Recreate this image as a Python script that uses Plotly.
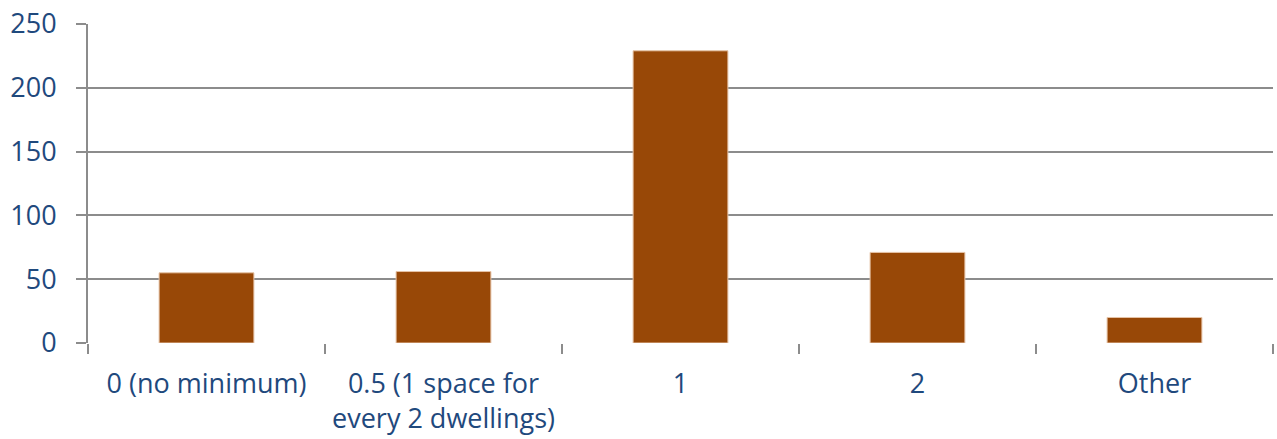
import plotly.graph_objects as go

# Minimum parking requirement (spaces per dwelling) and number of responses
categories = ["0 (no minimum)", "0.5 (1 space for<br>every 2 dwellings)", "1", "2", "Other"]
counts = [55, 56, 229, 71, 20]
y_ticks = [0, 50, 100, 150, 200, 250]

text_color = "#1F497D"
grid_color = "#8C8C8C"
bar_color = "#984807"
font_family = "Open Sans, Noto Sans, sans-serif"

fig = go.Figure(
    go.Bar(
        x=categories,
        y=counts,
        width=0.4,
        marker=dict(color=bar_color, line=dict(color="#E6C3A6", width=1)),
    )
)

fig.update_layout(
    width=1277,
    height=439,
    margin=dict(l=88, r=4, t=24, b=96),
    paper_bgcolor="white",
    plot_bgcolor="white",
    showlegend=False,
    font=dict(family=font_family, size=27, color=text_color),
    bargap=0.6,
)

fig.update_xaxes(
    type="category",
    tickson="boundaries",
    ticks="outside",
    ticklen=10,
    tickwidth=2,
    tickcolor=grid_color,
    showline=False,
    showgrid=False,
    ticklabelstandoff=22,
    tickfont=dict(family=font_family, size=27, color=text_color),
)

fig.update_yaxes(
    range=[0, 250],
    tickvals=y_ticks,
    ticks="outside",
    ticklen=10,
    tickwidth=2,
    tickcolor=grid_color,
    showgrid=True,
    gridcolor=grid_color,
    gridwidth=2,
    showline=True,
    linecolor=grid_color,
    linewidth=2,
    zeroline=False,
    ticklabelstandoff=14,
    tickfont=dict(family=font_family, size=27, color=text_color),
)

fig.write_html("out.html")
